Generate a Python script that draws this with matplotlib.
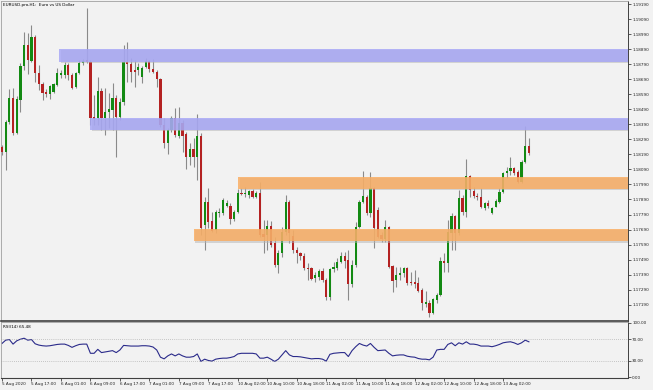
import matplotlib
matplotlib.use("Agg")
import matplotlib.pyplot as plt
import numpy as np

# EURUSD H1 candles, 5 Aug 09:00 -> 13 Aug 09:00
opens = [1.18239, 1.18206, 1.18406, 1.18565, 1.18333, 1.18552, 1.18778, 1.18918, 1.18811, 1.18971,
         1.18732, 1.18658, 1.18605, 1.18592, 1.18605, 1.18652, 1.18718, 1.18718, 1.18785, 1.18718,
         1.18638, 1.18732, 1.18798, 1.18818, 1.18805, 1.18439, 1.18432, 1.18612, 1.18432, 1.18472,
         1.18486, 1.18565, 1.18439, 1.18539, 1.18805, 1.18791, 1.18752, 1.18752, 1.18705, 1.18771,
         1.18811, 1.18758, 1.18738, 1.18692, 1.18386, 1.18266, 1.18353, 1.18432, 1.18313, 1.18399,
         1.18326, 1.18173, 1.18226, 1.18173, 1.18313, 1.17721, 1.17874, 1.17747, 1.17688, 1.17801,
         1.17801, 1.17847, 1.17847, 1.17761, 1.17807, 1.17933, 1.17927, 1.17920, 1.17947, 1.17907,
         1.17933, 1.17661, 1.17654, 1.17714, 1.17601, 1.17455, 1.17535, 1.17674, 1.17874, 1.17648,
         1.17555, 1.17535, 1.17515, 1.17435, 1.17435, 1.17369, 1.17375, 1.17415, 1.17355, 1.17242,
         1.17428, 1.17435, 1.17475, 1.17515, 1.17488, 1.17329, 1.17455, 1.17708, 1.17874, 1.17907,
         1.17801, 1.17967, 1.17821, 1.17654, 1.17628, 1.17708, 1.17448, 1.17355, 1.17389, 1.17402,
         1.17435, 1.17342, 1.17342, 1.17335, 1.17289, 1.17195, 1.17202, 1.17136, 1.17222, 1.17255,
         1.17481, 1.17468, 1.17668, 1.17781, 1.17668, 1.17900, 1.17807, 1.18047, 1.17947, 1.17913,
         1.17907, 1.17834, 1.17867, 1.17801, 1.17841, 1.17874, 1.17940, 1.18067, 1.18080, 1.18100,
         1.18073, 1.18007, 1.18140, 1.18246]
highs = [1.18253, 1.18419, 1.18625, 1.18632, 1.18579, 1.18798, 1.19004, 1.18998, 1.19051, 1.18984,
         1.18785, 1.18672, 1.18625, 1.18652, 1.18665, 1.18765, 1.18752, 1.18805, 1.18798, 1.18732,
         1.18738, 1.18818, 1.18825, 1.19164, 1.18818, 1.18585, 1.18705, 1.18632, 1.18632, 1.18599,
         1.18665, 1.18585, 1.18565, 1.18918, 1.18938, 1.18831, 1.18818, 1.18798, 1.18778, 1.18831,
         1.18818, 1.18825, 1.18752, 1.18698, 1.18432, 1.18366, 1.18446, 1.18499, 1.18505, 1.18419,
         1.18339, 1.18266, 1.18299, 1.18459, 1.18333, 1.17907, 1.17967, 1.17807, 1.17821, 1.17834,
         1.17900, 1.17887, 1.17867, 1.17821, 1.17960, 1.17967, 1.17973, 1.17954, 1.17960, 1.17947,
         1.18007, 1.17754, 1.17754, 1.17747, 1.17641, 1.17555, 1.17708, 1.17920, 1.17887, 1.17688,
         1.17574, 1.17541, 1.17535, 1.17468, 1.17441, 1.17409, 1.17428, 1.17435, 1.17369, 1.17435,
         1.17475, 1.17501, 1.17541, 1.17541, 1.17555, 1.17488, 1.17741, 1.17887, 1.18080, 1.17920,
         1.18073, 1.17973, 1.17841, 1.17674, 1.17754, 1.17714, 1.17455, 1.17441, 1.17441, 1.17441,
         1.17441, 1.17409, 1.17422, 1.17375, 1.17302, 1.17282, 1.17222, 1.17235, 1.17269, 1.17508,
         1.17535, 1.17754, 1.17801, 1.17787, 1.17954, 1.17920, 1.18160, 1.18053, 1.17973, 1.17933,
         1.17967, 1.17874, 1.17887, 1.17841, 1.17894, 1.17967, 1.18073, 1.18106, 1.18173, 1.18106,
         1.18087, 1.18153, 1.18379, 1.18299]
lows = [1.18186, 1.18087, 1.18392, 1.18319, 1.18326, 1.18472, 1.18752, 1.18725, 1.18805, 1.18672,
        1.18619, 1.18552, 1.18572, 1.18559, 1.18599, 1.18645, 1.18698, 1.18698, 1.18685, 1.18625,
        1.18632, 1.18725, 1.18785, 1.18798, 1.18386, 1.18386, 1.18386, 1.18353, 1.18319, 1.18366,
        1.18353, 1.18173, 1.18419, 1.18519, 1.18672, 1.18672, 1.18638, 1.18718, 1.18665, 1.18765,
        1.18738, 1.18732, 1.18638, 1.18372, 1.18233, 1.18193, 1.18339, 1.18306, 1.18299, 1.18206,
        1.18093, 1.18120, 1.18106, 1.18020, 1.17654, 1.17555, 1.17701, 1.17674, 1.17668, 1.17774,
        1.17787, 1.17841, 1.17727, 1.17747, 1.17801, 1.17920, 1.17907, 1.17900, 1.17900, 1.17900,
        1.17641, 1.17535, 1.17555, 1.17574, 1.17441, 1.17402, 1.17508, 1.17654, 1.17601, 1.17535,
        1.17468, 1.17488, 1.17422, 1.17355, 1.17355, 1.17342, 1.17355, 1.17342, 1.17222, 1.17222,
        1.17409, 1.17422, 1.17468, 1.17435, 1.17222, 1.17309, 1.17441, 1.17701, 1.17867, 1.17787,
        1.17774, 1.17568, 1.17634, 1.17608, 1.17608, 1.17435, 1.17275, 1.17309, 1.17355, 1.17375,
        1.17322, 1.17322, 1.17302, 1.17275, 1.17156, 1.17175, 1.17109, 1.17129, 1.17202, 1.17249,
        1.17409, 1.17409, 1.17555, 1.17555, 1.17654, 1.17787, 1.17774, 1.17907, 1.17900, 1.17887,
        1.17834, 1.17821, 1.17834, 1.17794, 1.17841, 1.17867, 1.17933, 1.18033, 1.18053, 1.18053,
        1.18000, 1.18000, 1.18133, 1.18186]
closes = [1.18206, 1.18406, 1.18565, 1.18333, 1.18559, 1.18778, 1.18918, 1.18818, 1.18971, 1.18732,
          1.18658, 1.18599, 1.18592, 1.18645, 1.18658, 1.18732, 1.18732, 1.18785, 1.18718, 1.18632,
          1.18732, 1.18798, 1.18811, 1.18805, 1.18432, 1.18426, 1.18612, 1.18432, 1.18472, 1.18492,
          1.18565, 1.18439, 1.18539, 1.18805, 1.18791, 1.18738, 1.18738, 1.18771, 1.18765, 1.18811,
          1.18758, 1.18738, 1.18692, 1.18386, 1.18266, 1.18353, 1.18432, 1.18319, 1.18399, 1.18313,
          1.18173, 1.18226, 1.18173, 1.18313, 1.17701, 1.17874, 1.17741, 1.17681, 1.17807, 1.17807,
          1.17887, 1.17867, 1.17761, 1.17807, 1.17933, 1.17927, 1.17933, 1.17947, 1.17907, 1.17933,
          1.17654, 1.17641, 1.17714, 1.17588, 1.17455, 1.17535, 1.17674, 1.17874, 1.17668, 1.17555,
          1.17535, 1.17515, 1.17435, 1.17428, 1.17362, 1.17389, 1.17415, 1.17355, 1.17242, 1.17428,
          1.17441, 1.17475, 1.17515, 1.17481, 1.17329, 1.17455, 1.17708, 1.17874, 1.17913, 1.17801,
          1.17967, 1.17701, 1.17641, 1.17628, 1.17708, 1.17441, 1.17349, 1.17389, 1.17402, 1.17435,
          1.17335, 1.17335, 1.17329, 1.17282, 1.17202, 1.17209, 1.17136, 1.17229, 1.17255, 1.17481,
          1.17468, 1.17674, 1.17781, 1.17668, 1.17900, 1.17807, 1.18047, 1.17954, 1.17913, 1.17907,
          1.17841, 1.17867, 1.17847, 1.17834, 1.17880, 1.17940, 1.18067, 1.18080, 1.18100, 1.18067,
          1.18007, 1.18140, 1.18246, 1.18200]

rsi = [62.1, 68.2, 69.4, 60.9, 67.0, 70.0, 71.8, 68.2, 69.4, 61.5,
       59.1, 57.9, 57.3, 57.9, 59.1, 60.3, 60.9, 60.9, 58.5, 54.9,
       57.9, 60.3, 60.9, 60.9, 43.9, 43.9, 51.2, 45.2, 46.4, 47.6,
       48.8, 45.2, 50.0, 58.5, 57.9, 57.3, 57.3, 57.3, 57.9, 57.9,
       57.3, 55.5, 50.0, 36.7, 33.6, 39.1, 42.7, 39.1, 42.7, 39.1,
       36.7, 36.7, 37.9, 42.7, 28.8, 33.0, 30.6, 29.4, 33.0, 34.2,
       34.9, 34.9, 36.1, 37.9, 42.7, 43.9, 43.9, 43.9, 43.9, 42.7,
       34.9, 34.9, 36.7, 33.0, 28.8, 33.0, 40.9, 48.8, 40.9, 37.9,
       37.9, 37.3, 36.1, 34.9, 33.6, 34.2, 34.2, 33.0, 29.4, 42.0,
       43.9, 44.5, 45.2, 45.2, 37.9, 48.8, 56.1, 62.1, 59.1, 57.3,
       62.1, 54.9, 48.8, 49.4, 50.0, 43.9, 39.1, 40.3, 40.9, 40.9,
       38.5, 37.3, 36.7, 34.2, 33.0, 33.0, 31.8, 36.7, 50.0, 51.2,
       51.2, 60.3, 63.3, 57.9, 63.3, 60.9, 65.2, 60.9, 60.9, 59.7,
       57.3, 57.3, 57.3, 56.1, 57.9, 60.3, 63.3, 64.5, 65.2, 63.3,
       60.3, 63.3, 68.2, 65.2]

time_labels = ["5 Aug 2020", "5 Aug 17:00", "6 Aug 01:00", "6 Aug 09:00", "6 Aug 17:00",
               "7 Aug 01:00", "7 Aug 09:00", "7 Aug 17:00", "10 Aug 02:00", "10 Aug 10:00",
               "10 Aug 18:00", "11 Aug 02:00", "11 Aug 10:00", "11 Aug 18:00", "12 Aug 02:00",
               "12 Aug 10:00", "12 Aug 18:00", "13 Aug 02:00"]
price_ticks = [1.17190 + 0.001 * k for k in range(21)]

# zones: (first bar, low, high, color)
zones = [(15.5, 1.18805, 1.18891, "#a5a5f6"),
         (23.9, 1.18353, 1.18432, "#a5a5f6"),
         (64.1, 1.17960, 1.18040, "#faac5f"),
         (52.1, 1.17614, 1.17694, "#faac5f")]

W, H = 653, 390
bg = "#f2f2f2"
fig = plt.figure(figsize=(W / 100, H / 100), dpi=100, facecolor=bg)
ax = fig.add_axes([1 / W, 1 - 321 / H, 627 / W, 320 / H], facecolor=bg)
ax2 = fig.add_axes([1 / W, 1 - 378 / H, 627 / W, 56 / H], facecolor=bg)

n = len(opens)
x = np.arange(n)
o = np.array(opens); h = np.array(highs); l = np.array(lows); c = np.array(closes)
up = c >= o

ax.vlines(x, l, h, color="#8a8a8a", lw=0.8, zorder=2)
body_lo = np.minimum(o, c)
body_h = np.maximum(np.abs(c - o), 0.00003)
ax.bar(x[up], body_h[up], bottom=body_lo[up], width=0.6, color="#138a13", zorder=3, linewidth=0)
ax.bar(x[~up], body_h[~up], bottom=body_lo[~up], width=0.6, color="#b42222", zorder=3, linewidth=0)

xmax = 169.9
for x0, lo, hi, col in zones:
    # soft shadow under the zone
    ax.fill_between([x0 + 0.4, xmax], lo - 0.00010, hi - 0.00010, color="#b4b4b4", alpha=0.5,
                    lw=0, zorder=3.5)
    ax.fill_between([x0, xmax], lo, hi, color=col, alpha=0.82, lw=0, zorder=4)

ax.set_xlim(-0.27, xmax)
ax.set_ylim(1.17082, 1.19210)
ax.yaxis.tick_right()
ax.set_yticks(price_ticks)
ax.set_yticklabels(["%.5f" % p for p in price_ticks])
ax.tick_params(axis="y", labelsize=3, length=2, width=0.5, pad=1, colors="#202020")
ax.set_xticks([])
for s in ["left", "top"]:
    ax.spines[s].set_color("#a0a0a0")
    ax.spines[s].set_linewidth(0.6)
ax.spines["right"].set_color("#404040")
ax.spines["right"].set_linewidth(0.7)
ax.spines["bottom"].set_color("#404040")
ax.spines["bottom"].set_linewidth(1.2)

fig.text(3 / W, 1 - 5 / H, "EURUSD.pro,H1:  Euro vs US Dollar", fontsize=3, va="center", ha="left")

# RSI panel
ax2.plot(x, rsi, color="#2a2a8a", lw=0.8)
ax2.axhline(70, color="#9a9a9a", lw=0.5, ls=(0, (1, 2)))
ax2.axhline(30, color="#9a9a9a", lw=0.5, ls=(0, (1, 2)))
ax2.set_xlim(-0.27, xmax)
ax2.set_ylim(-1.85, 101.85)
ax2.yaxis.tick_right()
ax2.set_yticks([0, 30, 70, 100])
ax2.set_yticklabels(["0.00", "30.00", "70.00", "100.00"])
ax2.tick_params(axis="y", labelsize=3, length=2, width=0.5, pad=1, colors="#202020")
ax2.set_xticks(np.arange(0, 8 * len(time_labels), 8))
ax2.set_xticklabels(time_labels, ha="left")
ax2.tick_params(axis="x", labelsize=3, length=2, width=0.5, pad=1, colors="#202020")
for s in ["left", "top"]:
    ax2.spines[s].set_color("#a0a0a0")
    ax2.spines[s].set_linewidth(0.6)
ax2.spines["right"].set_color("#404040")
ax2.spines["right"].set_linewidth(0.7)
ax2.spines["bottom"].set_color("#404040")
ax2.spines["bottom"].set_linewidth(0.8)
ax2.text(2 / 627, 0.95, "RSI(14) 65.48", transform=ax2.transAxes, fontsize=3, va="top", ha="left")

fig.savefig("out.png", dpi=100, facecolor=bg)
